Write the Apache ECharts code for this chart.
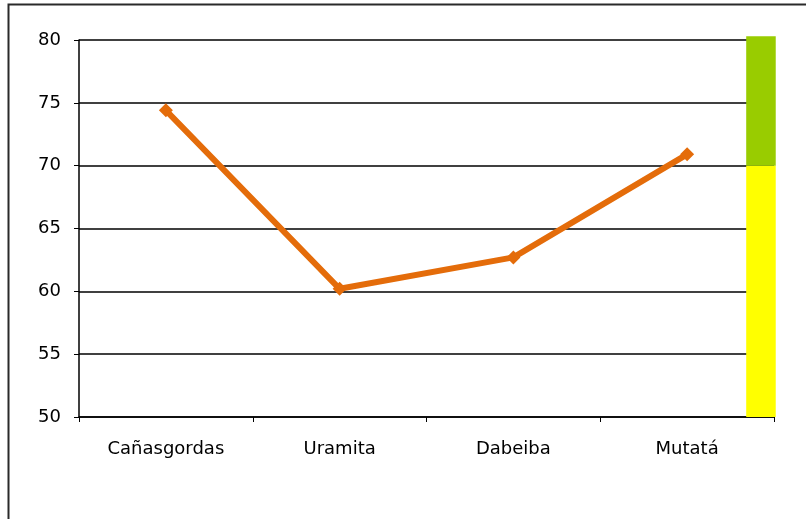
<!DOCTYPE html>
<html>
<head>
<meta charset="utf-8">
<script src="https://cdn.jsdelivr.net/npm/echarts@6/dist/echarts.min.js"></script>
<style>
  html, body { margin: 0; padding: 0; background: #fff; }
  #main { width: 806px; height: 519px; }
</style>
</head>
<body>
<div id="main"></div>
<script>
// municipios
const categories = ['Cañasgordas', 'Uramita', 'Dabeiba', 'Mutatá']
const values = [74.4, 60.2, 62.7, 70.9]

// franjas de referencia (de, hasta)
const bandFrom = [50, 70]
const bandTo = [70, 80.3]
const bandColors = ['#ffff00', '#99cc00']

const chart = echarts.init(document.getElementById('main'))

chart.setOption({
  animation: false,
  textStyle: { fontFamily: 'DejaVu Sans' },
  graphic: [
    {
      type: 'rect',
      shape: { x: 8.5, y: 4.5, width: 900, height: 600 },
      style: { fill: 'none', stroke: '#2a2a2a', lineWidth: 2 },
      z: 100
    }
  ],
  grid: { left: 79, right: 32, top: 40, bottom: 102 },
  xAxis: [
    {
      type: 'category',
      data: categories,
      boundaryGap: true,
      axisLine: { lineStyle: { color: '#000', width: 1.5 } },
      axisTick: { show: true, length: 5, lineStyle: { color: '#000' } },
      axisLabel: { color: '#000', fontSize: 18, margin: 23 }
    },
    {
      type: 'value',
      min: 0,
      max: 4,
      show: false
    }
  ],
  yAxis: {
    type: 'value',
    min: 50,
    max: 80,
    interval: 5,
    axisLine: { show: true, lineStyle: { color: '#000', width: 1.5 } },
    axisTick: { show: true, length: 5, lineStyle: { color: '#000' } },
    axisLabel: { color: '#000', fontSize: 18, margin: 18 },
    splitLine: { lineStyle: { color: '#000', width: 1.5 } }
  },
  series: [
    {
      type: 'custom',
      xAxisIndex: 1,
      clip: false,
      z: 1,
      data: bandFrom.map((v, i) => [v, bandTo[i], i]),
      renderItem: (params, api) => {
        const p1 = api.coord([3.84, api.value(1)])
        const p2 = api.coord([4.01, api.value(0)])
        return {
          type: 'rect',
          shape: { x: p1[0], y: p1[1], width: p2[0] - p1[0], height: p2[1] - p1[1] },
          style: { fill: bandColors[api.value(2)] }
        }
      }
    },
    {
      type: 'line',
      data: values,
      z: 5,
      symbol: 'diamond',
      symbolSize: 14,
      lineStyle: { color: '#e46c0a', width: 6 },
      itemStyle: { color: '#e46c0a' }
    }
  ]
})
</script>
</body>
</html>
